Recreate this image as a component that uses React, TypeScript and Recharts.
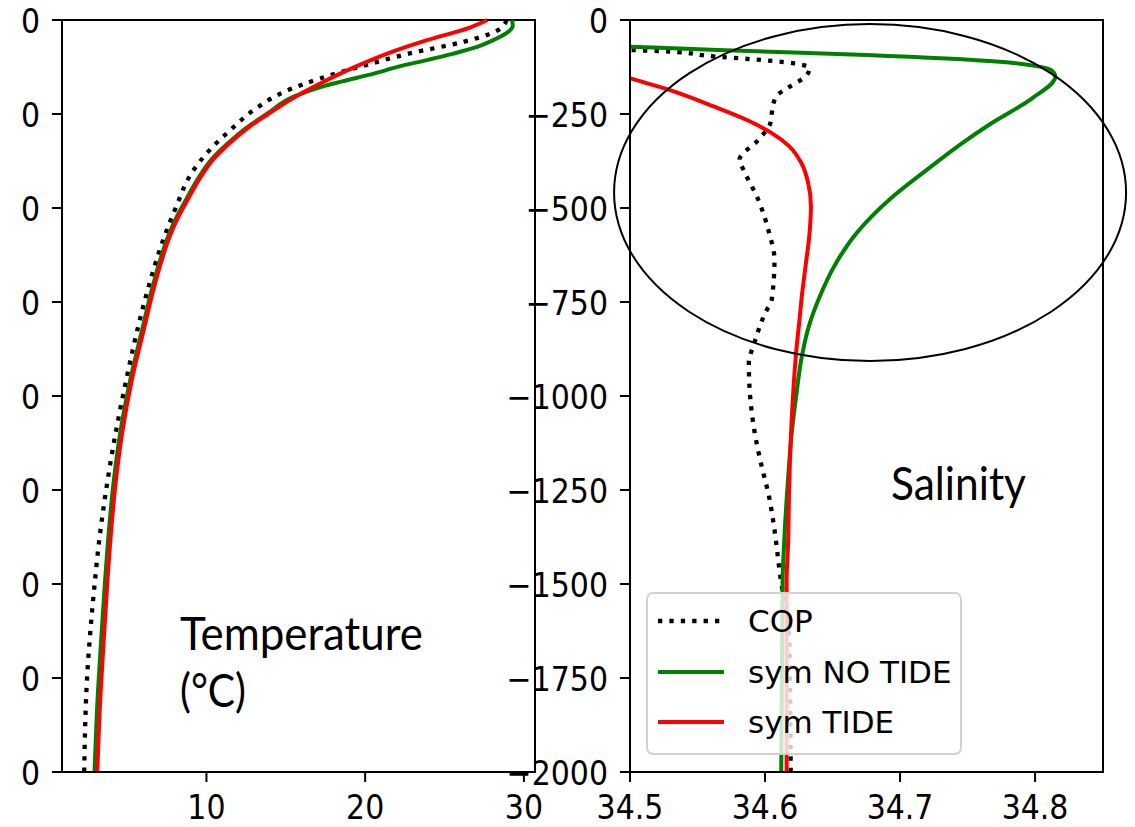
import React from 'react';
import { LineChart, Line, XAxis, YAxis, ReferenceDot, ReferenceArea, Legend } from 'recharts';

// ---------- series / ticks ----------
const seriesNames = ['COP', 'sym NO TIDE', 'sym TIDE'];
const seriesColors = ['#000000', '#008000', '#ff0000'];

const tempTicks = [10, 20, 30];
const tempDomain = [0.9, 30.7];
const salTicks = [34.5, 34.6, 34.7, 34.8];
const salDomain = [34.5, 34.8503];
const depthTicks = [0, -250, -500, -750, -1000, -1250, -1500, -1750, -2000];
const depthDomain = [-2000, 0];

// ---------- temperature profiles (depth m, °C) ----------
const tempCopDepth = [0, 10, 30, 58, 89, 124, 155, 191, 230, 293, 346, 408, 496, 594, 718, 824, 957, 1117, 1267, 1400, 1490, 1570, 1750, 2000];
const tempCopValue = [28.9, 28.8, 28.24, 26.2, 22.8, 19.7, 17.2, 14.9, 13.3, 11.5, 10.2, 9.05, 8.1, 7.2, 6.3, 5.65, 4.95, 4.2, 3.62, 3.2, 2.98, 2.8, 2.48, 2.3];

const tempNoTideDepth = [0, 15, 35, 55, 71, 90, 106, 124, 142, 164, 177, 204, 250, 284, 330, 372, 420, 479, 530, 585, 650, 727, 824, 957, 1090, 1223, 1356, 1500, 1614, 1790, 2000];
const tempNoTideValue = [29.25, 29.3, 28.9, 28.0, 27.1, 25.5, 23.95, 22.1, 20.6, 18.5, 17.3, 15.5, 13.8, 12.6, 11.3, 10.3, 9.5, 8.7, 8.05, 7.5, 7.0, 6.5, 5.95, 5.2, 4.6, 4.17, 3.86, 3.6, 3.42, 3.16, 2.95];

const tempTideDepth = [0, 20, 53, 90, 124, 168, 204, 250, 284, 330, 372, 420, 479, 530, 585, 650, 727, 824, 957, 1090, 1223, 1356, 1500, 1614, 1790, 2000];
const tempTideValue = [27.7, 26.6, 23.95, 21.35, 19.4, 17.2, 15.6, 13.9, 12.7, 11.4, 10.4, 9.6, 8.8, 8.15, 7.6, 7.1, 6.6, 6.05, 5.3, 4.72, 4.3, 4.0, 3.75, 3.58, 3.33, 3.12];

// ---------- salinity profiles (depth m, psu) ----------
const salCopDepth = [0, 70, 80, 84, 97, 104, 115, 128, 150, 180, 204, 248, 274, 319, 372, 398, 478, 566, 637, 743, 780, 860, 912, 1002, 1090, 1179, 1268, 1356, 1472, 1657, 2000];
const salCopValue = [34.3, 34.46, 34.502, 34.529, 34.562, 34.589, 34.621, 34.633, 34.63, 34.617, 34.608, 34.605, 34.604, 34.595, 34.581, 34.584, 34.595, 34.603, 34.607, 34.605, 34.6, 34.592, 34.588, 34.589, 34.592, 34.597, 34.603, 34.607, 34.611, 34.618, 34.619];

const salNoTideDepth = [0, 60, 71, 80, 93, 111, 122, 133, 150, 208, 274, 330, 398, 478, 566, 650, 740, 820, 900, 1002, 1090, 1223, 1401, 1489, 2000];
const salNoTideValue = [34.2, 34.42, 34.5, 34.565, 34.675, 34.774, 34.8, 34.812, 34.815, 34.798, 34.768, 34.745, 34.72, 34.692, 34.668, 34.652, 34.64, 34.632, 34.627, 34.623, 34.62, 34.617, 34.614, 34.613, 34.612];

const salTideDepth = [0, 120, 155, 186, 230, 270, 301, 336, 381, 434, 496, 566, 655, 743, 780, 886, 1046, 1223, 1401, 1489, 2000];
const salTideValue = [34.35, 34.47, 34.5, 34.529, 34.562, 34.589, 34.605, 34.618, 34.627, 34.632, 34.634, 34.633, 34.63, 34.627, 34.626, 34.623, 34.62, 34.618, 34.617, 34.616, 34.616];

// ---------- annotation ----------
const ellipseCenter = { salinity: 34.6778, depth: -459 };
const annotTemperature = ['Temperature', '(°C)'];
const annotSalinity = 'Salinity';

const toRows = (depths: number[], values: number[]) =>
  depths.map((d, i) => ({ depth: -d, value: values[i] }));

const tempSeries = [
  toRows(tempCopDepth, tempCopValue),
  toRows(tempNoTideDepth, tempNoTideValue),
  toRows(tempTideDepth, tempTideValue),
];
const salSeries = [
  toRows(salCopDepth, salCopValue),
  toRows(salNoTideDepth, salNoTideValue),
  toRows(salTideDepth, salTideValue),
];

const FONT = '"DejaVu Sans", sans-serif';
const TICK_FS = 30;
const SY = 1.15;

const fmtDepth = (v: number) => (v < 0 ? '\u2212' + Math.abs(v) : String(v));

const YTick = (props: any) => {
  const { x, y, payload, fmt } = props;
  return (
    <text
      x={x}
      y={y}
      dy="0.3645em"
      textAnchor="end"
      fontFamily={FONT}
      fontSize={TICK_FS}
      fill="#000"
      transform={`translate(0 ${y}) scale(1 ${SY}) translate(0 ${-y})`}
    >
      {fmt(payload.value)}
    </text>
  );
};

const XTick = (props: any) => {
  const { x, y, payload } = props;
  return (
    <text
      x={x}
      y={y}
      dy="0.729em"
      textAnchor="middle"
      fontFamily={FONT}
      fontSize={TICK_FS}
      fill="#000"
      transform={`translate(0 ${y}) scale(1 ${SY}) translate(0 ${-y})`}
    >
      {String(payload.value)}
    </text>
  );
};

const lineStyle = (i: number) =>
  i === 0
    ? { stroke: seriesColors[0], strokeWidth: 4.3, strokeDasharray: '4.3 7.1' }
    : { stroke: seriesColors[i], strokeWidth: 4 };

const LegendBox = () => (
  <div
    style={{
      width: 316,
      height: 163,
      boxSizing: 'border-box',
      border: '2px solid #d2d2d2',
      borderRadius: 7,
      background: 'rgba(255,255,255,0.8)',
      position: 'relative',
      fontFamily: FONT,
      fontSize: 31,
      color: '#000',
    }}
  >
    {seriesNames.map((name, i) => (
      <div
        key={name}
        style={{
          position: 'absolute',
          left: 0,
          top: 27 + i * 50.5 - 25,
          height: 50,
          display: 'flex',
          alignItems: 'center',
          whiteSpace: 'nowrap',
        }}
      >
        <svg width={100} height={10} style={{ display: 'block' }}>
          <line x1={10} x2={76} y1={5} y2={5} {...lineStyle(i)} />
        </svg>
        <span style={{ lineHeight: '50px' }}>{name}</span>
      </div>
    ))}
  </div>
);

const axisLine = { stroke: '#000', strokeWidth: 2 };
const tickLine = { stroke: '#000', strokeWidth: 2 };

const RIGHT_LEFT = 470;

export default function App() {
  return (
    <div style={{ position: 'absolute', left: 0, top: 0, width: 1135, height: 827, background: '#fff', overflow: 'hidden' }}>
      {/* Temperature panel */}
      <div style={{ position: 'absolute', left: 0, top: 0 }}>
        <LineChart width={560} height={827} layout="vertical" margin={{ top: 20, right: 25, bottom: 0, left: 0 }}>
          <XAxis
            type="number"
            domain={tempDomain}
            ticks={tempTicks}
            height={55}
            tickSize={10}
            tickMargin={12}
            axisLine={axisLine}
            tickLine={tickLine}
            tick={(p: any) => <XTick {...p} />}
            interval={0}
          />
          <YAxis
            type="number"
            dataKey="depth"
            domain={depthDomain}
            ticks={depthTicks}
            reversed
            width={62}
            tickSize={10}
            tickMargin={12}
            axisLine={axisLine}
            tickLine={tickLine}
            tick={(p: any) => <YTick {...p} fmt={(v: number) => fmtDepth(v).slice(-1)} />}
            interval={0}
          />
          <ReferenceArea
            x1={tempDomain[0]}
            x2={tempDomain[1]}
            y1={depthDomain[0]}
            y2={depthDomain[1]}
            fill="none"
            stroke="#000"
            strokeWidth={2}
            fillOpacity={0}
            ifOverflow="visible"
          />
          {tempSeries.map((rows, i) => (
            <Line
              key={seriesNames[i]}
              name={seriesNames[i]}
              data={rows}
              dataKey="value"
              type="monotone"
              dot={false}
              activeDot={false}
              isAnimationActive={false}
              {...lineStyle(i)}
            />
          ))}
        </LineChart>
      </div>

      {/* Salinity panel */}
      <div style={{ position: 'absolute', left: RIGHT_LEFT, top: 0 }}>
        <LineChart width={1135 - RIGHT_LEFT} height={827} layout="vertical" margin={{ top: 20, right: 32, bottom: 0, left: 0 }}>
          <XAxis
            type="number"
            domain={salDomain}
            ticks={salTicks}
            allowDataOverflow
            height={55}
            tickSize={10}
            tickMargin={12}
            axisLine={axisLine}
            tickLine={tickLine}
            tick={(p: any) => <XTick {...p} />}
            interval={0}
          />
          <YAxis
            type="number"
            dataKey="depth"
            domain={depthDomain}
            ticks={depthTicks}
            reversed
            width={630 - RIGHT_LEFT}
            tickSize={10}
            tickMargin={12}
            axisLine={axisLine}
            tickLine={tickLine}
            tick={(p: any) => <YTick {...p} fmt={fmtDepth} />}
            interval={0}
          />
          <ReferenceArea
            x1={salDomain[0]}
            x2={salDomain[1]}
            y1={depthDomain[0]}
            y2={depthDomain[1]}
            fill="none"
            stroke="#000"
            strokeWidth={2}
            fillOpacity={0}
            ifOverflow="visible"
          />
          {salSeries.map((rows, i) => (
            <Line
              key={seriesNames[i]}
              name={seriesNames[i]}
              data={rows}
              dataKey="value"
              type="monotone"
              dot={false}
              activeDot={false}
              isAnimationActive={false}
              {...lineStyle(i)}
            />
          ))}
          <ReferenceDot
            x={ellipseCenter.salinity}
            y={ellipseCenter.depth}
            ifOverflow="visible"
            shape={(p: any) => (
              <ellipse cx={p.cx} cy={p.cy} rx={256} ry={168.5} fill="none" stroke="#000" strokeWidth={2} />
            )}
          />
          <Legend
            layout="vertical"
            align="center"
            verticalAlign="middle"
            content={() => <LegendBox />}
            wrapperStyle={{ left: 646 - RIGHT_LEFT, top: 592, width: 316, height: 163, right: 'auto', bottom: 'auto' }}
          />
        </LineChart>
      </div>

      {/* Text annotations */}
      <svg width={1135} height={827} style={{ position: 'absolute', left: 0, top: 0, pointerEvents: 'none' }}>
        <g fontFamily='Lato, "Open Sans", sans-serif' fontSize={46} fill="#000">
          <text x={180} y={650} textLength={243} lengthAdjust="spacingAndGlyphs">{annotTemperature[0]}</text>
          <text x={180} y={707} textLength={66} lengthAdjust="spacingAndGlyphs">{annotTemperature[1]}</text>
          <text x={891} y={500} textLength={135} lengthAdjust="spacingAndGlyphs">{annotSalinity}</text>
        </g>
      </svg>
    </div>
  );
}
